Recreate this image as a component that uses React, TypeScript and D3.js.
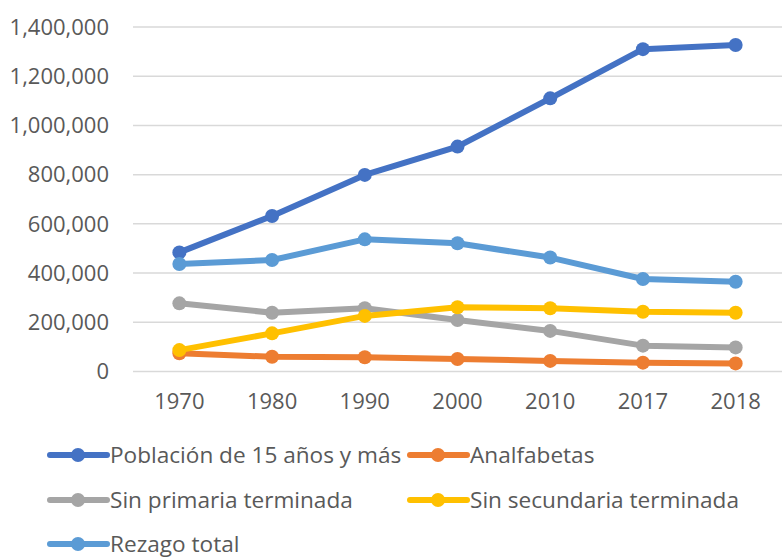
import React from "react";
import * as d3 from "d3";

const years = ["1970", "1980", "1990", "2000", "2010", "2017", "2018"];
const poblacion = [484000, 632000, 799000, 914000, 1110000, 1310000, 1327000];
const analfabetas = [74000, 60000, 58000, 51000, 43000, 36000, 33000];
const sinPrimaria = [277000, 239000, 257000, 209000, 165000, 105000, 98000];
const sinSecundaria = [87000, 155000, 226000, 261000, 257000, 243000, 239000];
const rezago = [437000, 453000, 537000, 521000, 463000, 376000, 365000];
const yTicks = [0, 200000, 400000, 600000, 800000, 1000000, 1200000, 1400000];

const series = [
  { name: "Población de 15 años y más", values: poblacion, color: "#4472C4" },
  { name: "Analfabetas", values: analfabetas, color: "#ED7D31" },
  { name: "Sin primaria terminada", values: sinPrimaria, color: "#A5A5A5" },
  { name: "Sin secundaria terminada", values: sinSecundaria, color: "#FFC000" },
  { name: "Rezago total", values: rezago, color: "#5B9BD5" },
];

const LegendItem = ({ x, y, color, text }) => (
  <g transform={`translate(${x}, ${y})`}>
    <line x1={0} x2={57} stroke={color} strokeWidth={6} strokeLinecap="round" />
    <circle cx={28} r={7} fill={color} />
    <text x={60} dy="0.35em" fontSize={22.6} fill="#595959">{text}</text>
  </g>
);

const App = () => {
  const width = 782;
  const height = 558;
  const font = "'Open Sans', 'Noto Sans', sans-serif";

  const x = d3.scaleBand().domain(years).range([133, 782]);
  const y = d3.scaleLinear().domain([0, 1400000]).range([371.5, 27]);
  const fmt = d3.format(",");

  const line = d3.line<number>()
    .x((d, i) => x(years[i])! + x.bandwidth() / 2)
    .y(d => y(d));

  const legendPos = [
    [50, 455], [410, 455],
    [50, 500], [410, 500],
    [50, 544],
  ];

  return (
    <svg width={width} height={height} style={{ position: "absolute", left: 0, top: 0, fontFamily: font }}>
      <rect width={width} height={height} fill="white" />
      {yTicks.map(t => (
        <g key={t}>
          <line x1={133} x2={782} y1={y(t)} y2={y(t)} stroke="#D9D9D9" strokeWidth={1.5} />
          <text x={109} y={y(t)} dy="0.35em" textAnchor="end" fontSize={22} fill="#595959">{fmt(t)}</text>
        </g>
      ))}
      {years.map(yr => (
        <text key={yr} x={x(yr)! + x.bandwidth() / 2} y={409} textAnchor="middle" fontSize={22} fill="#595959">{yr}</text>
      ))}
      {series.map(s => (
        <g key={s.name}>
          <path d={line(s.values)!} fill="none" stroke={s.color} strokeWidth={6} strokeLinejoin="round" strokeLinecap="round" />
          {s.values.map((v, i) => (
            <circle key={i} cx={x(years[i])! + x.bandwidth() / 2} cy={y(v)} r={7} fill={s.color} />
          ))}
        </g>
      ))}
      {series.map((s, i) => (
        <LegendItem key={s.name} x={legendPos[i][0]} y={legendPos[i][1]} color={s.color} text={s.name} />
      ))}
    </svg>
  );
};

export default App;
